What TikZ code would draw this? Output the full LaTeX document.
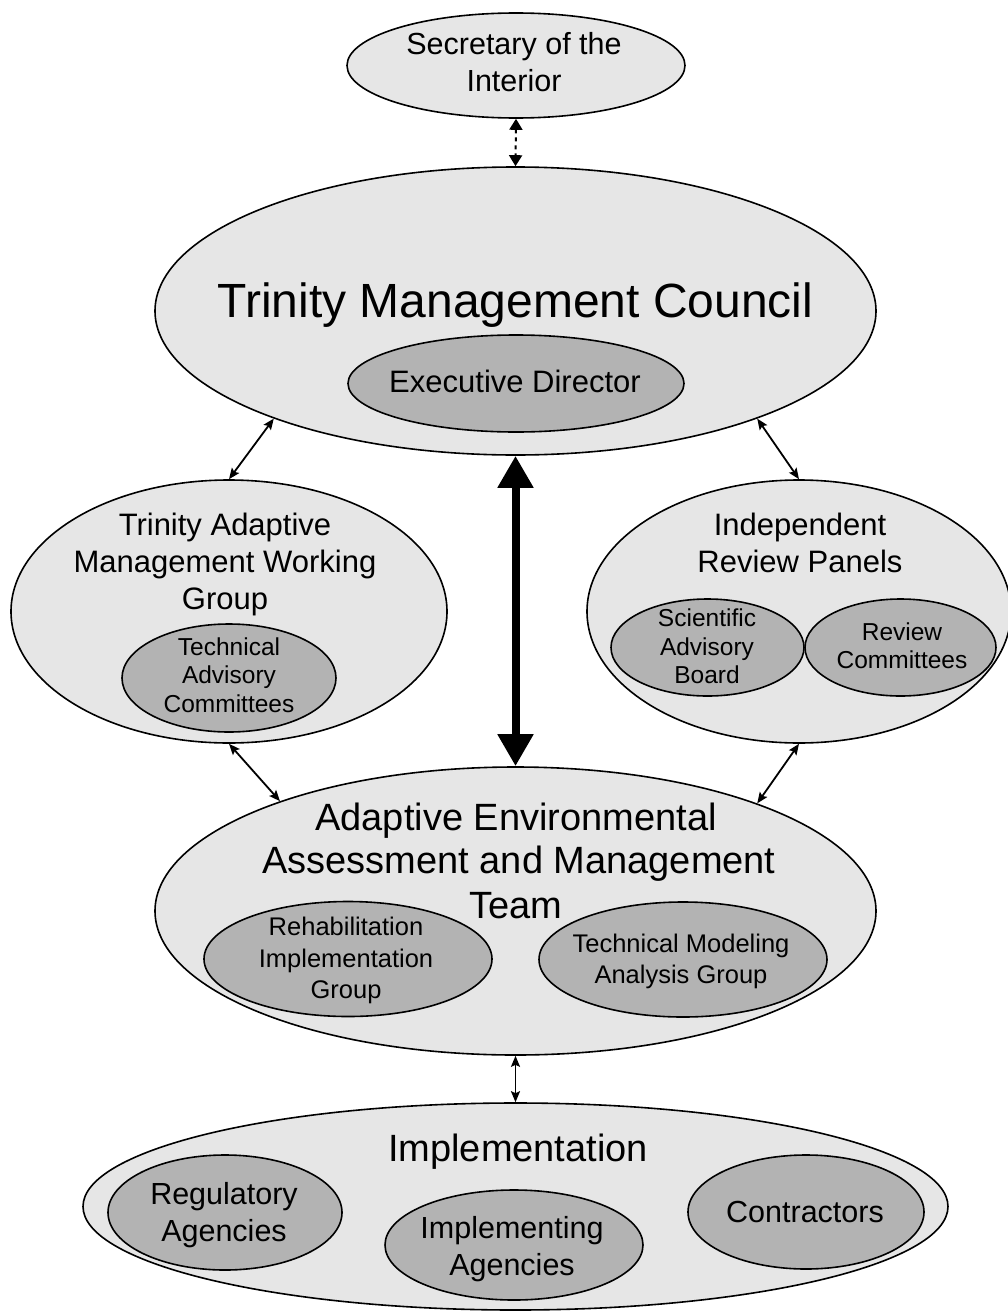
\documentclass[tikz,border=0pt]{standalone}
\usepackage{fontspec}
\setmainfont{Liberation Sans}
\usetikzlibrary{shapes.geometric,arrows.meta}
\definecolor{outerfill}{RGB}{230,230,230}
\definecolor{innerfill}{RGB}{179,179,179}
\tikzset{
  outerell/.style={ellipse, draw=black, line width=1.6pt, fill=outerfill, inner sep=0pt},
  innerell/.style={ellipse, draw=black, line width=1.6pt, fill=innerfill, inner sep=0pt},
  txt/.style={anchor=base, inner sep=0pt, text=black},
  fA/.style={txt, font=\fontsize{48}{56}\selectfont},
  fB/.style={txt, font=\fontsize{38}{44}\selectfont},
  fC/.style={txt, font=\fontsize{31}{37}\selectfont},
  fD/.style={txt, font=\fontsize{30.5}{37}\selectfont},
  fE/.style={txt, font=\fontsize{25.5}{31}\selectfont},
  fF/.style={txt, font=\fontsize{24.5}{29}\selectfont},
  thinarrow/.style={line width=1.8pt, {Stealth[length=11pt,width=9pt,inset=2pt]}-{Stealth[length=11pt,width=9pt,inset=2pt]}},
  thickarrow/.style={line width=8pt, {Triangle[length=32pt,width=34pt]}-{Triangle[length=32pt,width=34pt]}},
  dotarrow/.style={line width=2pt, dash pattern=on 4pt off 4pt, {Triangle[length=11pt,width=13pt]}-{Triangle[length=11pt,width=13pt]}}
}
\begin{document}
\begin{tikzpicture}[x=1pt,y=-1pt]
\useasboundingbox (0,0) rectangle (1008,1314);
% outer ellipses
\node[outerell, minimum width=338pt, minimum height=105pt] (sec) at (516,65.5) {};
\node[outerell, minimum width=721pt, minimum height=288pt] (tmc) at (515.5,311) {};
\node[outerell, minimum width=436pt, minimum height=263pt] (tamwg) at (229,611.5) {};
\node[outerell, minimum width=424pt, minimum height=263pt] (irp) at (799,611.5) {};
\node[outerell, minimum width=721pt, minimum height=288pt] (aeam) at (515.5,911) {};
\node[outerell, minimum width=865pt, minimum height=207pt] (impl) at (515.5,1206.5) {};
% inner ellipses
\node[innerell, minimum width=336pt, minimum height=97pt] (ed) at (516,383.5) {};
\node[innerell, minimum width=214pt, minimum height=108pt] (tac) at (229,678) {};
\node[innerell, minimum width=193pt, minimum height=97pt] (sab) at (707.5,647.5) {};
\node[innerell, minimum width=191pt, minimum height=97pt] (rc) at (900.5,647.5) {};
\node[innerell, minimum width=288pt, minimum height=115pt] (rig) at (348,959) {};
\node[innerell, minimum width=288pt, minimum height=115pt] (tmag) at (683,959.5) {};
\node[innerell, minimum width=234pt, minimum height=115pt] (reg) at (225,1212.5) {};
\node[innerell, minimum width=258pt, minimum height=110pt] (ia) at (514,1245) {};
\node[innerell, minimum width=236pt, minimum height=114pt] (con) at (806,1212) {};
% texts
\node[fD] (secT1) at (514,55) {Secretary of the};
\node[fD] (secT2) at (514,92) {Interior};
\node[fA] (tmcT) at (515.5,317) {Trinity Management Council};
\node[fC] (edT) at (515,392) {Executive Director};
\node[fC] (tamwgT1) at (225,535) {Trinity Adaptive};
\node[fC] (tamwgT2) at (225,572) {Management Working};
\node[fC] (tamwgT3) at (225,609) {Group};
\node[fF] (tacT1) at (229,655) {Technical};
\node[fF] (tacT2) at (229,683) {Advisory};
\node[fF] (tacT3) at (229,712) {Committees};
\node[fC] (irpT1) at (800,535) {Independent};
\node[fC] (irpT2) at (800,572) {Review Panels};
\node[fF] (sabT1) at (707,626) {Scientific};
\node[fF] (sabT2) at (707,655) {Advisory};
\node[fF] (sabT3) at (707,683) {Board};
\node[fF] (rcT1) at (902,640) {Review};
\node[fF] (rcT2) at (902,668) {Committees};
\node[fB] (aeamT1) at (516,830) {Adaptive Environmental};
\node[fB] (aeamT2) at (519,873) {Assessment and Management};
\node[fB] (aeamT3) at (516,918) {Team};
\node[fE] (rigT1) at (346,935) {Rehabilitation};
\node[fE] (rigT2) at (346,967) {Implementation};
\node[fE] (rigT3) at (346,998) {Group};
\node[fE] (tmagT1) at (681,952) {Technical Modeling};
\node[fE] (tmagT2) at (681,983) {Analysis Group};
\node[fB] (implT) at (518,1161) {Implementation};
\node[fD] (regT1) at (224,1204) {Regulatory};
\node[fD] (regT2) at (224,1241) {Agencies};
\node[fD] (iaT1) at (512,1238) {Implementing};
\node[fD] (iaT2) at (512,1275) {Agencies};
\node[fD] (conT) at (805,1222) {Contractors};
% connectors
\draw[dotarrow] (sec.south) -- (tmc.north);
\draw[thickarrow] (tmc.south) -- (aeam.north);
\draw[thinarrow] (tmc.204) -- (tamwg.north);
\draw[thinarrow] (tmc.336) -- (irp.north);
\draw[thinarrow] (tamwg.south) -- (aeam.155.7);
\draw[thinarrow] (irp.south) -- (aeam.24.3);
\draw[thinarrow] (aeam.south) -- (impl.north);
\end{tikzpicture}
\end{document}
